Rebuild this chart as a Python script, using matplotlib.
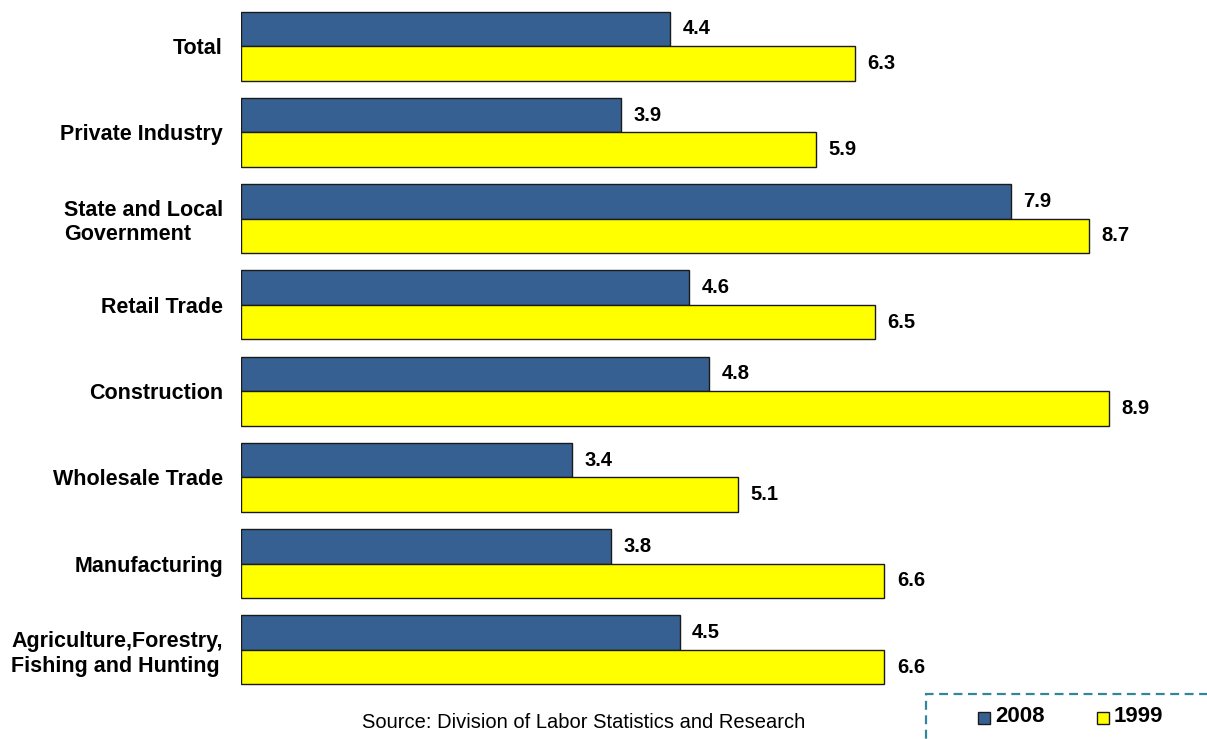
import matplotlib

matplotlib.use("Agg")
import matplotlib.pyplot as plt
from matplotlib.patches import Rectangle

plt.rcParams["font.family"] = ["Liberation Sans", "DejaVu Sans"]

categories = [
    "Total",
    "Private Industry",
    "State and Local\nGovernment",
    "Retail Trade",
    "Construction",
    "Wholesale Trade",
    "Manufacturing",
    "Agriculture,Forestry,\nFishing and Hunting",
]
rate_2008 = [4.4, 3.9, 7.9, 4.6, 4.8, 3.4, 3.8, 4.5]
rate_1999 = [6.3, 5.9, 8.7, 6.5, 8.9, 5.1, 6.6, 6.6]
series_labels = ["2008", "1999"]

BLUE = "#376092"
YELLOW = "#FFFF00"

W, H = 1207, 739
fig = plt.figure(figsize=(W / 100, H / 100), dpi=100)
ax = fig.add_axes([241 / W, 1 - 693 / H, 926 / W, 690 / H])

bar_h = 0.4
pos = list(range(len(categories)))
ax.barh([p - bar_h / 2 for p in pos], rate_2008, height=bar_h, color=BLUE,
        edgecolor="#1a1a1a", linewidth=1.0)
ax.barh([p + bar_h / 2 for p in pos], rate_1999, height=bar_h, color=YELLOW,
        edgecolor="#1a1a1a", linewidth=1.0)

for p, a, b in zip(pos, rate_2008, rate_1999):
    ax.annotate(f"{a:.1f}", (a, p - bar_h / 2), xytext=(9, 0), textcoords="offset points",
                ha="left", va="center", fontsize=14.5, fontweight="bold")
    ax.annotate(f"{b:.1f}", (b, p + bar_h / 2), xytext=(9, 0), textcoords="offset points",
                ha="left", va="center", fontsize=14.5, fontweight="bold")

ax.set_xlim(0, 9.5)
ax.set_ylim(len(categories) - 0.5, -0.5)
ax.set_yticks(pos)
ax.set_yticklabels(categories, fontsize=15.5, fontweight="bold", multialignment="left",
                   linespacing=1.2)
ax.tick_params(axis="y", length=0, pad=13)
ax.set_xticks([])
for s in ax.spines.values():
    s.set_visible(False)

fig.text(584 / W, 1 - 722 / H, "Source: Division of Labor Statistics and Research",
         ha="center", va="center", fontsize=14.5)

# legend box (dashed, partly off the canvas)
box = Rectangle((926 / W, -0.02), 0.3, 1 - 694 / H + 0.02, transform=fig.transFigure,
                fill=False, edgecolor="#31859C", linestyle=(0, (4, 2.5)), linewidth=1.6)
fig.add_artist(box)
for x0, lab, col in [(978, series_labels[0], BLUE), (1097, series_labels[1], YELLOW)]:
    fig.add_artist(Rectangle((x0 / W, 1 - 724 / H), 12 / W, 12 / H, transform=fig.transFigure,
                             facecolor=col, edgecolor="#1a1a1a", linewidth=1.0))
    fig.text((x0 + 17) / W, 1 - 717 / H, lab, ha="left", va="center",
             fontsize=16, fontweight="bold")

fig.savefig("out.png", dpi=100)
